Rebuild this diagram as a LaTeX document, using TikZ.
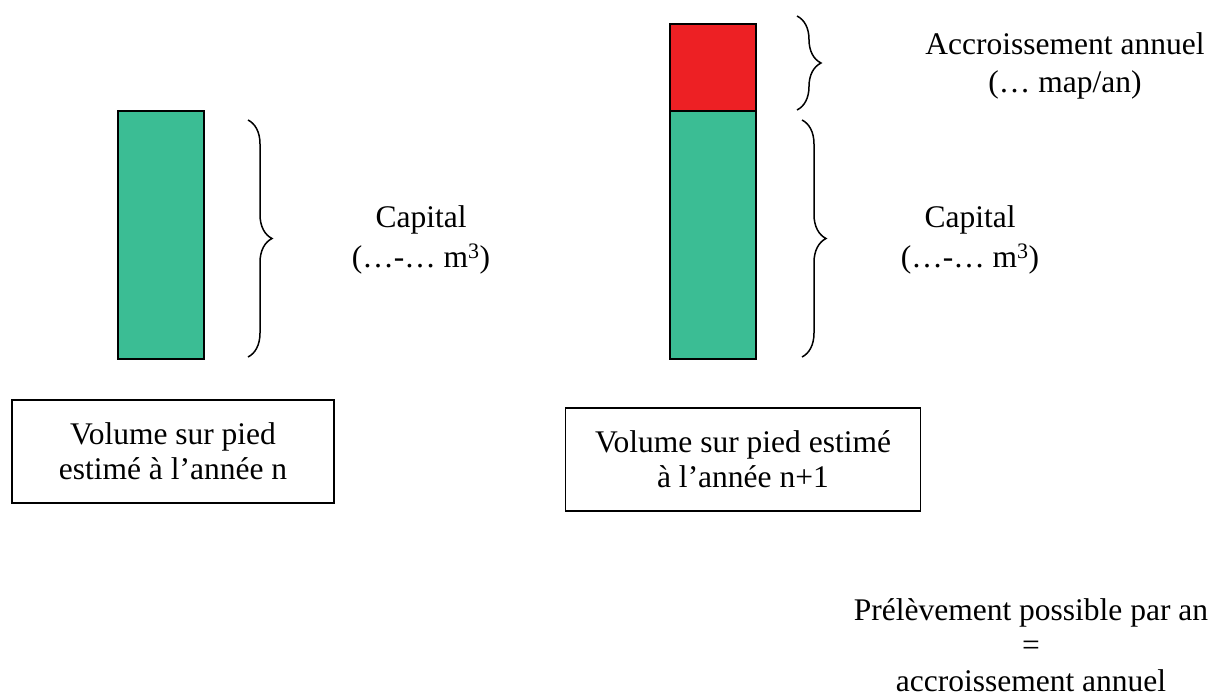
\documentclass[tikz,border=0pt]{standalone}
\usepackage{fontspec}
\setmainfont{Liberation Serif}
\usetikzlibrary{decorations.pathreplacing}
\definecolor{capgreen}{RGB}{59,189,148}
\definecolor{accred}{RGB}{237,32,36}
\begin{document}
\begin{tikzpicture}[x=1pt,y=-1pt,
  bar/.style={draw=black,line width=1.6pt,inner sep=0pt,minimum width=86pt},
  brc/.style={draw=black,line width=1.5pt,decorate,decoration={brace,amplitude=24pt,aspect=0.5}},
  lbl/.style={align=center,font=\fontsize{31.5}{40}\selectfont,inner sep=0pt},
  framebox/.style={draw=black,line width=1.2pt,align=center,font=\fontsize{31.5}{35}\selectfont,inner sep=0pt}]
\useasboundingbox (0,0) rectangle (1216,697);
% left column
\node[bar,fill=capgreen,minimum height=248pt] (g1) at (161,235) {};
\coordinate (l1t) at (248,120);
\coordinate (l1b) at (248,357);
\draw[brc] (l1t) -- (l1b);
\node[lbl] (cap1) at (421,240) {Capital\\(…-… m\textsuperscript{3})};
\node[framebox,minimum width=322pt,minimum height=103pt] (box1) at (173,451.5) {Volume sur pied\\estimé à l’année n};
% right column
\node[bar,fill=capgreen,minimum height=248pt] (g2) at (713,235) {};
\node[bar,fill=accred,minimum height=87pt] (r2) at (713,67.5) {};
\coordinate (r2t) at (797,16);
\coordinate (r2b) at (797,110);
\draw[brc] (r2t) -- (r2b);
\coordinate (g2t) at (802,120);
\coordinate (g2b) at (802,357);
\draw[brc] (g2t) -- (g2b);
\node[lbl,font=\fontsize{31.5}{38}\selectfont] (acc) at (1065,66) {Accroissement annuel\\(… map/an)};
\node[lbl] (cap2) at (970,240) {Capital\\(…-… m\textsuperscript{3})};
\node[framebox,minimum width=355pt,minimum height=103pt] (box2) at (743,459.5) {Volume sur pied estimé\\à l’année n+1};
% bottom text
\node[lbl,font=\fontsize{31.5}{35.5}\selectfont] (prel) at (1031,645) {Prélèvement possible par an\\=\\accroissement annuel};
\end{tikzpicture}
\end{document}
